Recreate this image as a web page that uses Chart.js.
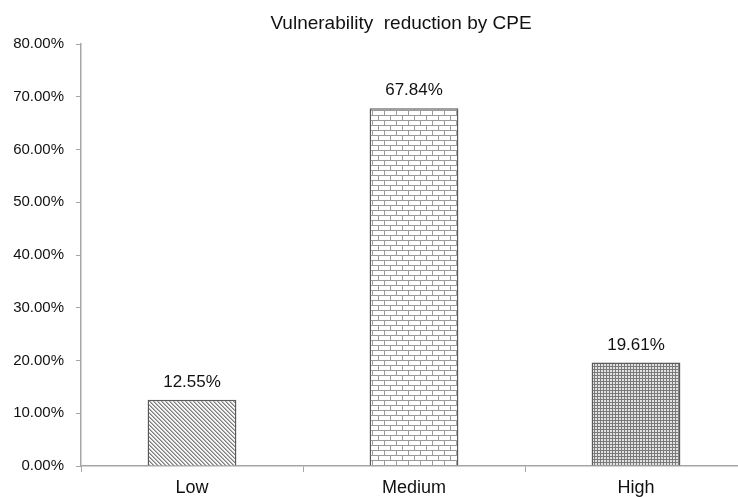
<!DOCTYPE html>
<html>
<head>
<meta charset="utf-8">
<script src="https://cdn.jsdelivr.net/npm/chart.js@4"></script>
<style>
  html, body { margin: 0; padding: 0; background: #fff; overflow: hidden; }
  #wrap { width: 750px; height: 497px; }
</style>
</head>
<body>
<div id="wrap"><canvas id="chart" width="750" height="497"></canvas></div>
<script>
const categories = ["Low", "Medium", "High"];
const reduction = [0.1255, 0.6784, 0.1961];
const yTicks = [0, 0.1, 0.2, 0.3, 0.4, 0.5, 0.6, 0.7, 0.8];
const chartTitle = "Vulnerability  reduction by CPE";

const FONT = "Arial, 'Liberation Sans', sans-serif";

// small fill patterns like the Excel ones
function makePattern(w, h, draw) {
  const c = document.createElement("canvas");
  c.width = w;
  c.height = h;
  const g = c.getContext("2d");
  draw(g);
  return document.getElementById("chart").getContext("2d").createPattern(c, "repeat");
}

const diagonal = makePattern(4, 4, (g) => {
  g.fillStyle = "#f6f6f6";
  g.fillRect(0, 0, 4, 4);
  for (let i = 0; i < 4; i++) {
    g.fillStyle = "#7c7c7c";
    g.fillRect(i, i, 1, 1);
    g.fillStyle = "#b4b4b4";
    g.fillRect((i + 1) % 4, i, 1, 1);
  }
});

const brick = makePattern(12, 10, (g) => {
  g.fillStyle = "#ffffff";
  g.fillRect(0, 0, 12, 10);
  g.fillStyle = "#9a9a9a";
  g.fillRect(0, 0, 12, 1);
  g.fillRect(0, 5, 12, 1);
  g.fillRect(0, 0, 1, 5);
  g.fillRect(6, 5, 1, 5);
});

const dots = makePattern(3, 3, (g) => {
  g.fillStyle = "#e2e2e2";
  g.fillRect(0, 0, 3, 3);
  g.fillStyle = "#7a7a7a";
  g.fillRect(0, 0, 3, 1);
  g.fillRect(0, 0, 1, 3);
});

const pct = (v) => (v * 100).toFixed(2) + "%";

// value labels above bars + title centred over the plot
const labelsPlugin = {
  id: "labels",
  afterDatasetsDraw(chart) {
    const ctx = chart.ctx;
    const meta = chart.getDatasetMeta(0);
    ctx.save();
    ctx.fillStyle = "#111";
    ctx.font = "17px " + FONT;
    ctx.textAlign = "center";
    ctx.textBaseline = "bottom";
    meta.data.forEach((bar, i) => {
      ctx.fillText(pct(reduction[i]), bar.x, bar.y - 9);
    });
    ctx.font = "19px " + FONT;
    ctx.textBaseline = "middle";
    ctx.fillText(chartTitle, 401, 24);
    ctx.restore();
  },
};

new Chart(document.getElementById("chart"), {
  type: "bar",
  data: {
    labels: categories,
    datasets: [
      {
        data: reduction,
        backgroundColor: [diagonal, brick, dots],
        borderColor: "#5a5a5a",
        borderWidth: 1.5,
        barPercentage: 0.4,
        categoryPercentage: 1,
      },
    ],
  },
  options: {
    responsive: false,
    animation: false,
    layout: { padding: { top: 44, right: 3, left: 0, bottom: 0 } },
    plugins: {
      legend: { display: false },
      tooltip: { enabled: false },
      title: { display: false },
    },
    scales: {
      x: {
        grid: { display: true, drawOnChartArea: false, tickLength: 6, color: "#a6a6a6" },
        border: { color: "#a6a6a6", width: 1.5 },
        ticks: { color: "#111", font: { family: FONT, size: 18 }, padding: 5 },
        afterFit: (s) => { s.height = 31; },
      },
      y: {
        min: 0,
        max: 0.8,
        afterBuildTicks: (s) => { s.ticks = yTicks.map((v) => ({ value: v })); },
        grid: { display: true, drawOnChartArea: false, tickLength: 5, color: "#a6a6a6" },
        border: { color: "#a6a6a6", width: 1.5 },
        ticks: {
          color: "#111",
          font: { family: FONT, size: 15 },
          padding: 12,
          callback: (v) => pct(v),
        },
        afterFit: (s) => { s.width = 81; },
      },
    },
  },
  plugins: [labelsPlugin],
});
</script>
</body>
</html>
